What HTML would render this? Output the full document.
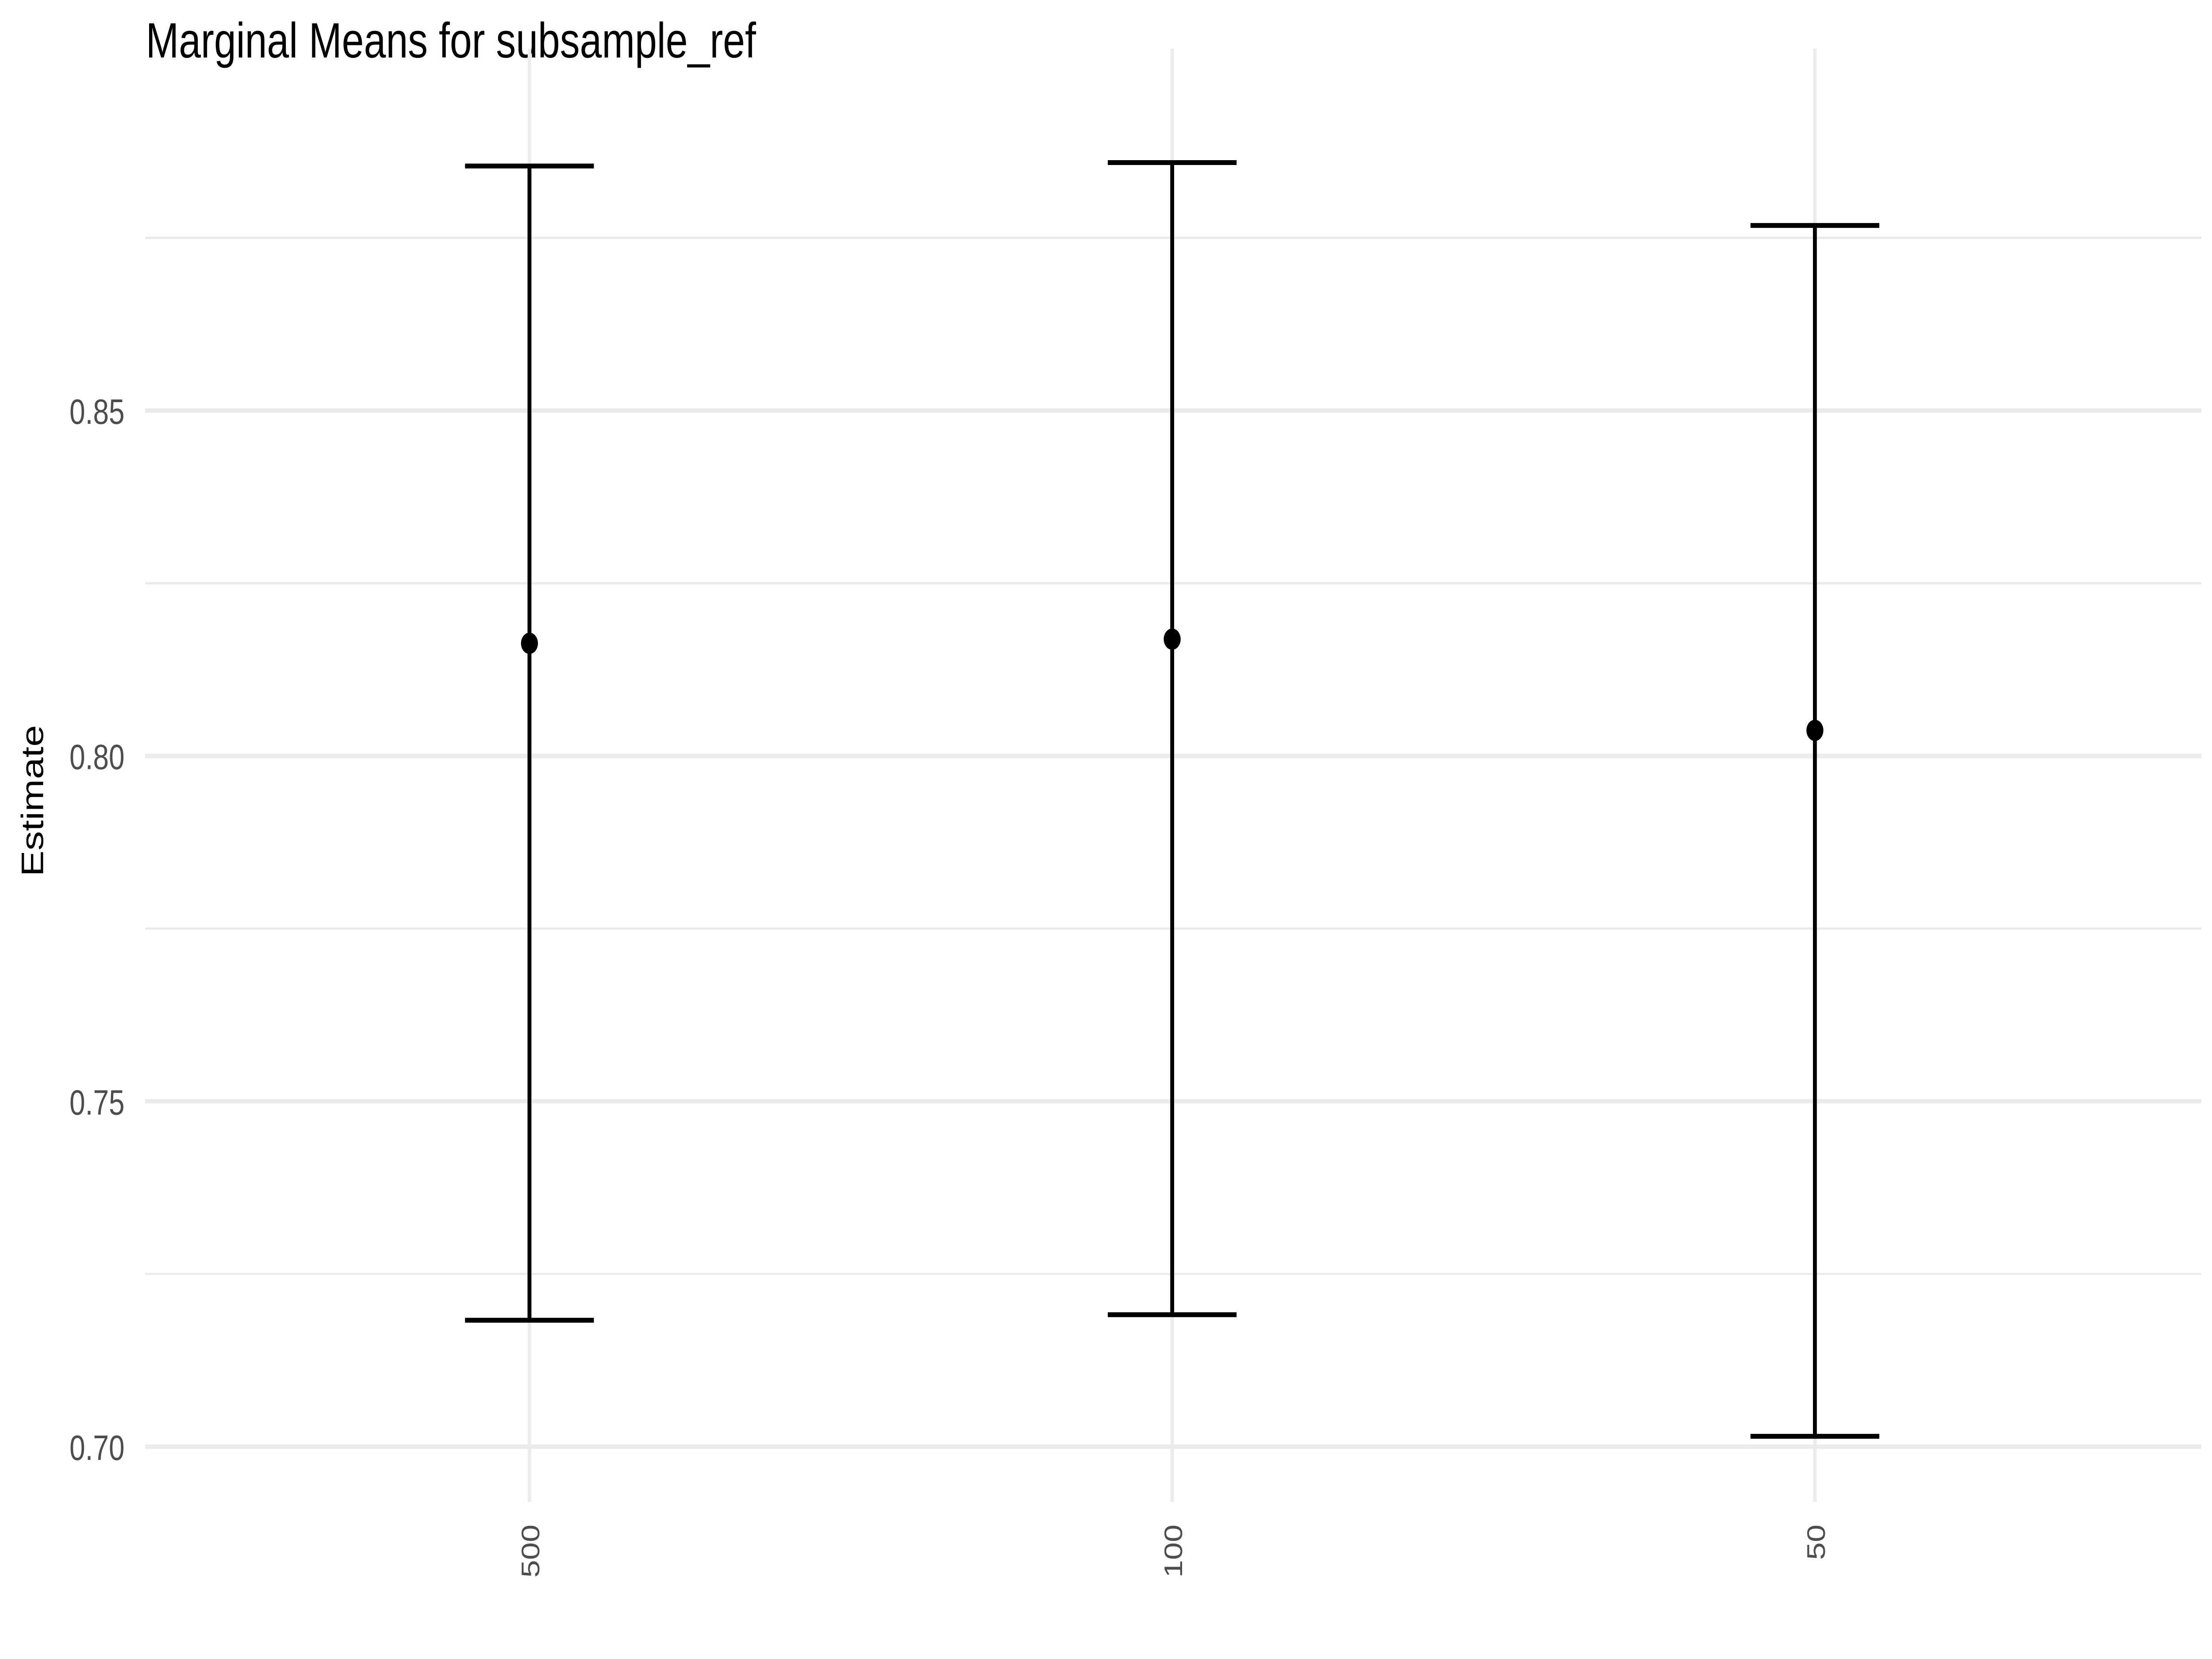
<!DOCTYPE html>
<html><head><meta charset="utf-8"><style>
html,body{margin:0;padding:0;background:#fff;width:100%;height:100%;overflow:hidden;}
svg{display:block;position:fixed;left:0;top:0;width:100vw;height:100vh;font-family:"Liberation Sans","DejaVu Sans",sans-serif;}
</style></head><body>
<svg id="chart" viewBox="0 0 6250 3750" preserveAspectRatio="none" xmlns="http://www.w3.org/2000/svg">
<rect width="6250" height="3750" fill="#fff"/>
<text x="412" y="130" font-size="112" fill="#000">Marginal Means for subsample_ref</text>
<text transform="translate(122,1810) rotate(-90)" text-anchor="middle" font-size="88" fill="#000">Estimate</text>
<g id="grid"></g><g id="marks"></g><g id="labels"></g>
</svg>
<script>
const categories = ["500", "100", "50"];
const estimates = [0.8163, 0.8169, 0.8037];
const lowers = [0.7183, 0.7191, 0.7015];
const uppers = [0.8854, 0.8859, 0.8768];
const yTicks = [0.70, 0.75, 0.80, 0.85];
const yTickLabels = ["0.70", "0.75", "0.80", "0.85"];
const yMinor = [0.725, 0.775, 0.825, 0.875];

const NS = "http://www.w3.org/2000/svg";
const panelL = 410, panelR = 6220, panelT = 110, panelB = 3395;
function y(v){ return 3270 - (v - 0.70) / 0.15 * (3270 - 928); }
const step = 1816;
function x(i){ return 1496 + i * step; }
function mk(tag, attrs, parent){ const e = document.createElementNS(NS, tag); for (const k in attrs) e.setAttribute(k, attrs[k]); parent.appendChild(e); return e; }
const grid = document.getElementById('grid'), marks = document.getElementById('marks'), labels = document.getElementById('labels');

yMinor.forEach(v => {
  const l = mk('line', {x1: panelL, x2: panelR, y1: y(v), y2: y(v), stroke: '#ebebeb', 'stroke-width': 5}, grid);
  
  
});
yTicks.forEach((v, i) => {
  const l = mk('line', {x1: panelL, x2: panelR, y1: y(v), y2: y(v), stroke: '#ebebeb', 'stroke-width': 10}, grid);
  
  
  const t = mk('text', {x: 352, y: y(v) + 30, 'text-anchor': 'end', 'font-size': 80, fill: '#4d4d4d'}, labels);
  t.textContent = yTickLabels[i];
  
  
});
categories.forEach((c, i) => {
  const l = mk('line', {x1: x(i), x2: x(i), y1: panelT, y2: panelB, stroke: '#ebebeb', 'stroke-width': 10}, grid);
  
  
  const t = mk('text', {transform: `translate(${x(i) + 28},3446) rotate(-90)`, 'text-anchor': 'end', 'font-size': 72, fill: '#4d4d4d'}, labels);
  t.textContent = c;
  
  
  const g = mk('g', {}, marks);
  
  
  mk('line', {x1: x(i), x2: x(i), y1: y(uppers[i]), y2: y(lowers[i]), stroke: '#000', 'stroke-width': 11}, g);
  mk('line', {x1: x(i) - 182, x2: x(i) + 182, y1: y(uppers[i]), y2: y(uppers[i]), stroke: '#000', 'stroke-width': 11}, g);
  mk('line', {x1: x(i) - 182, x2: x(i) + 182, y1: y(lowers[i]), y2: y(lowers[i]), stroke: '#000', 'stroke-width': 11}, g);
  const p = mk('circle', {cx: x(i), cy: y(estimates[i]), r: 24, fill: '#000'}, marks);
  
  
});
</script>
</body></html>
